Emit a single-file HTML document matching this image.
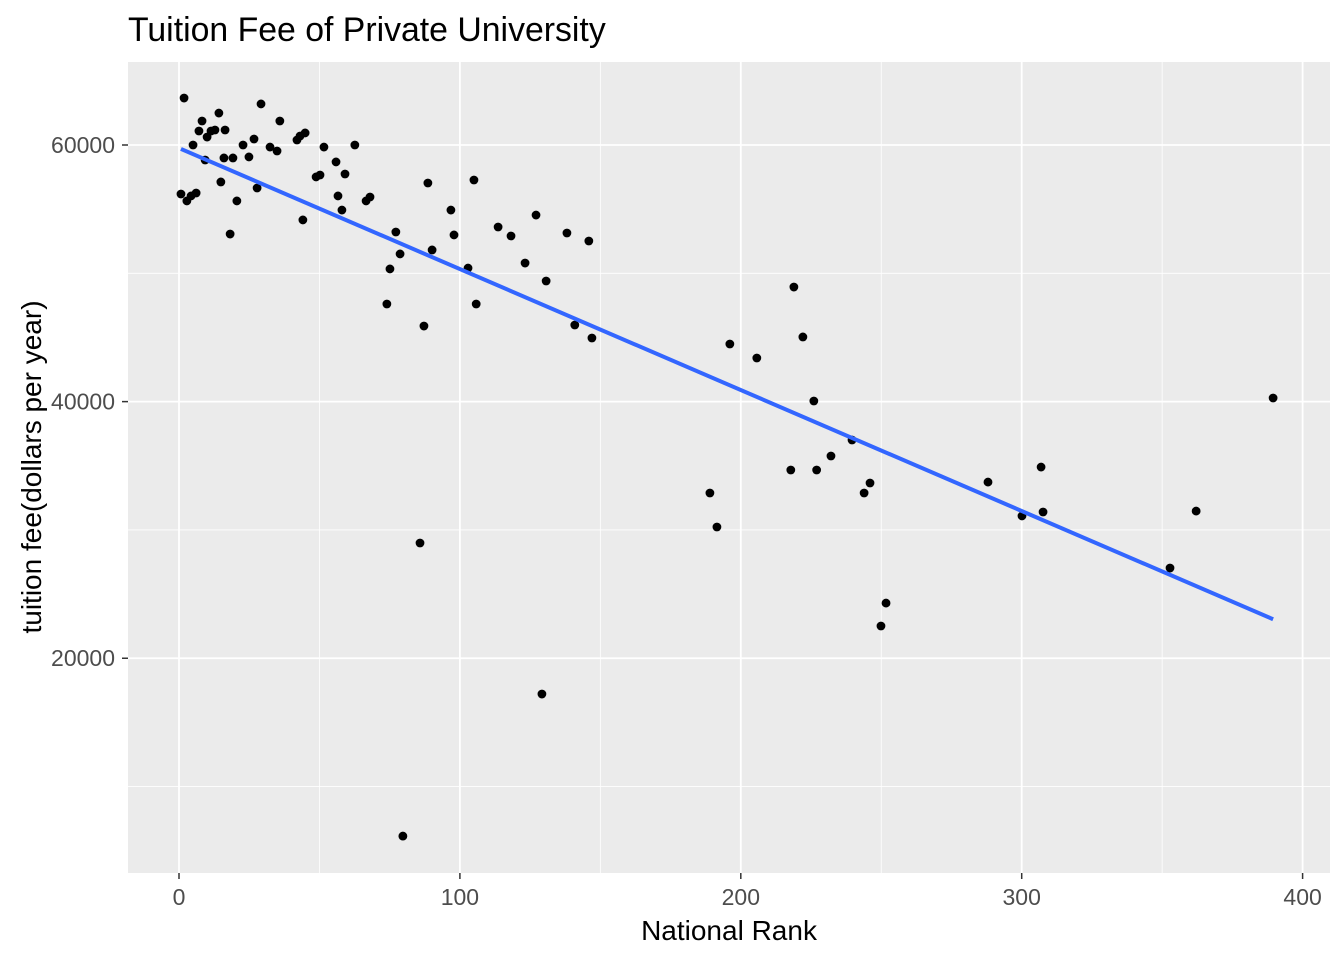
<!DOCTYPE html>
<html><head><meta charset="utf-8"><style>
html,body{margin:0;padding:0;background:#fff;}
svg{display:block;font-family:"Liberation Sans",Arial,sans-serif;}
</style></head><body>
<svg id="chart" width="1344" height="960" viewBox="0 0 1344 960" xmlns="http://www.w3.org/2000/svg">
<rect x="0" y="0" width="1344" height="960" fill="#fff"/>
<text x="128" y="41" font-size="33.8" fill="#000">Tuition Fee of Private University</text>
<rect x="128" y="62" width="1202" height="811" fill="#ebebeb"/>
<g id="grid"></g>
<g id="points"></g>
<g id="fit"></g>
<g id="axes"></g>
<text x="729" y="940" font-size="28" text-anchor="middle" fill="#000">National Rank</text>
<text transform="translate(41,467) rotate(-90)" font-size="28" text-anchor="middle" fill="#000">tuition fee(dollars per year)</text>
</svg>
<script>
const rank = [1.8,0.7,2.8,4.3,6.1,5.0,7.1,8.2,10.0,9.3,11.4,12.8,14.2,14.9,16.4,16.0,18.2,19.2,20.6,22.8,24.9,26.7,27.8,29.2,32.4,34.9,35.9,42.0,43.1,44.9,44.1,48.8,50.2,51.6,55.9,56.6,58.0,59.1,62.6,66.6,68.0,74.0,75.1,77.2,78.7,79.7,85.8,87.2,88.6,90.1,96.8,97.9,102.9,105.0,105.8,113.6,118.2,123.2,127.1,129.2,130.7,138.1,140.9,145.9,147.0,189.0,191.5,196.1,205.7,217.8,218.9,222.1,226.0,227.0,232.1,239.6,243.9,246.0,249.9,251.7,288.0,300.1,306.9,307.6,352.8,362.1,389.5];
const fee = [63660,56180,55640,56030,56260,60000,61090,61870,60620,58830,61090,61170,62490,57120,61170,58990,53060,58990,55640,60000,59070,60470,56650,63200,59840,59530,61870,60390,60700,60940,54160,57510,57660,59840,58680,56030,54930,57740,60000,55640,55950,47610,50340,53220,51510,6140,28980,45890,57040,51820,54930,52990,50410,57270,47610,53610,52910,50800,54540,17210,49400,53140,45970,52520,44960,32880,30230,44490,43400,34670,48930,45040,40050,34670,35760,37010,32880,33660,22510,24300,33730,31090,34900,31400,27030,31470,40280];
const xTicks = [0,100,200,300,400];
const xMinor = [50,150,250,350];
const yTicks = [20000,40000,60000];
const yMinor = [10000,30000,50000];

const NS = "http://www.w3.org/2000/svg";
const L=128,R=1330,T=62,B=873;
function sx(v){return 179 + v*2.809;}
function sy(v){return 145 + (60000-v)*0.012831;}
function mk(tag, attrs, parent){const e=document.createElementNS(NS,tag);for(const k in attrs)e.setAttribute(k,attrs[k]);parent.appendChild(e);return e;}
const grid=document.getElementById('grid'), axes=document.getElementById('axes');
xMinor.forEach(v=>{const l=mk('line',{x1:sx(v),x2:sx(v),y1:T,y2:B,stroke:'#fff','stroke-width':0.8},grid);

});
yMinor.forEach(v=>{const l=mk('line',{x1:L,x2:R,y1:sy(v),y2:sy(v),stroke:'#fff','stroke-width':0.8},grid);

});
xTicks.forEach(v=>{const l=mk('line',{x1:sx(v),x2:sx(v),y1:T,y2:B,stroke:'#fff','stroke-width':1.8},grid);


const t=mk('line',{x1:sx(v),x2:sx(v),y1:B,y2:B+6,stroke:'#333','stroke-width':1.5},axes);


const tx=mk('text',{x:sx(v),y:B+32,'font-size':23,'text-anchor':'middle',fill:'#4d4d4d'},axes);tx.textContent=v;

});
yTicks.forEach(v=>{const l=mk('line',{x1:L,x2:R,y1:sy(v),y2:sy(v),stroke:'#fff','stroke-width':1.8},grid);


const t=mk('line',{x1:L-6,x2:L,y1:sy(v),y2:sy(v),stroke:'#333','stroke-width':1.5},axes);


const tx=mk('text',{x:L-13,y:sy(v)+8,'font-size':23,'text-anchor':'end',fill:'#4d4d4d'},axes);tx.textContent=v;

});
const pts=document.getElementById('points');
rank.forEach((r,i)=>{const c=mk('circle',{cx:sx(r),cy:sy(fee[i]),r:4.4,fill:'#000'},pts);

});
const n=rank.length;let mx=0,my=0;rank.forEach((r,i)=>{mx+=r;my+=fee[i];});mx/=n;my/=n;
let sxy=0,sxx=0;rank.forEach((r,i)=>{sxy+=(r-mx)*(fee[i]-my);sxx+=(r-mx)*(r-mx);});
const b=sxy/sxx,a=my-b*mx;
const x0=Math.min(...rank),x1=Math.max(...rank);
const fl=mk('line',{x1:sx(x0),y1:sy(a+b*x0),x2:sx(x1),y2:sy(a+b*x1),stroke:'#3366ff','stroke-width':4},document.getElementById('fit'));


</script>
</body></html>
